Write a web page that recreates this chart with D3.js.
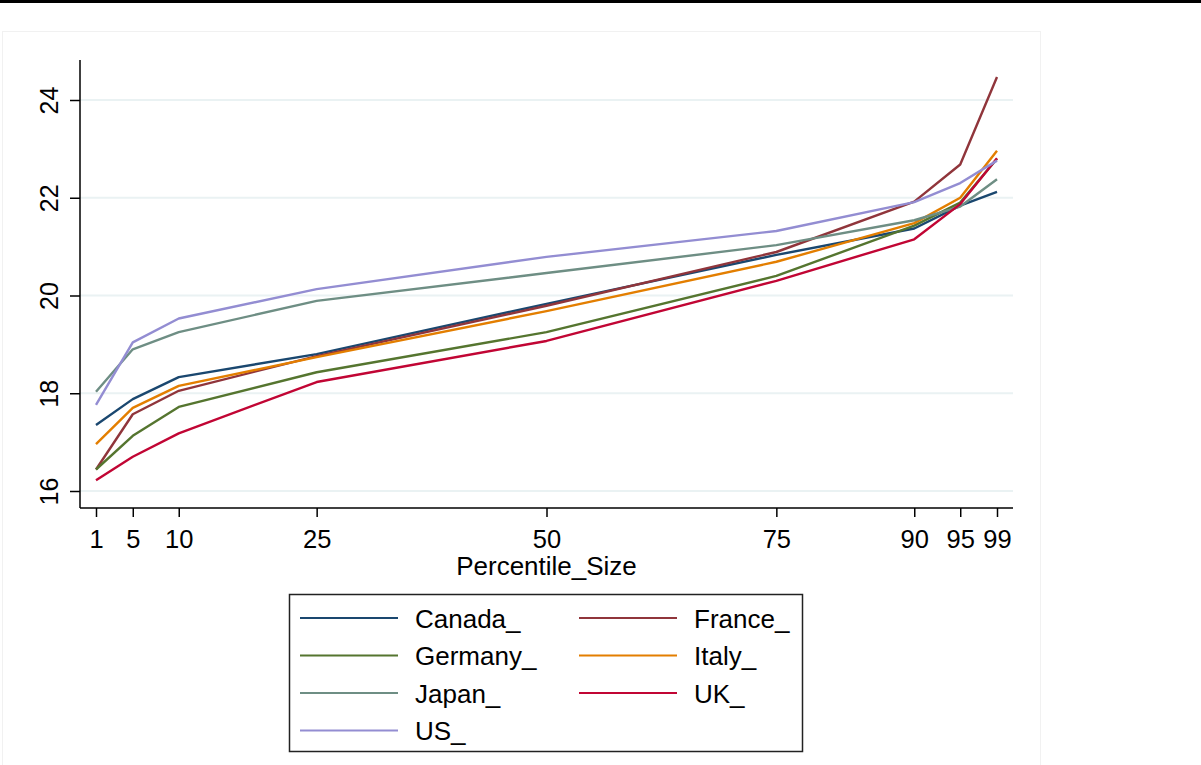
<!DOCTYPE html>
<html>
<head>
<meta charset="utf-8">
<script src="https://cdn.jsdelivr.net/npm/d3@7"></script>
<style>
  html, body { margin: 0; padding: 0; background: #ffffff; }
  svg { display: block; font-family: "Liberation Sans", Arial, sans-serif; }
</style>
</head>
<body>
<svg id="chart" width="1201" height="765"></svg>
<script>
// Percentile points on the horizontal axis
const percentiles = [1, 5, 10, 25, 50, 75, 90, 95, 99];
const yTicks = [16, 18, 20, 22, 24];

// Series values by country (log size at each percentile)
const canada  = [17.35, 17.88, 18.33, 18.80, 19.83, 20.83, 21.37, 21.84, 22.12];
const france  = [16.44, 17.57, 18.05, 18.76, 19.79, 20.89, 21.92, 22.68, 24.47];
const germany = [16.44, 17.13, 17.72, 18.43, 19.25, 20.40, 21.43, 21.90, 22.80];
const italy   = [16.96, 17.70, 18.15, 18.74, 19.68, 20.69, 21.48, 22.00, 22.96];
const japan   = [18.03, 18.90, 19.25, 19.89, 20.46, 21.03, 21.54, 21.82, 22.38];
const uk      = [16.22, 16.70, 17.18, 18.23, 19.07, 20.30, 21.15, 21.87, 22.81];
const us      = [17.76, 19.04, 19.53, 20.13, 20.79, 21.32, 21.91, 22.30, 22.76];

const seriesNames = ["Canada_", "France_", "Germany_", "Italy_", "Japan_", "UK_", "US_"];
const seriesValues = [canada, france, germany, italy, japan, uk, us];
const seriesColors = ["#1a476f", "#90353b", "#55752f", "#e37e00", "#6e8e84", "#c10534", "#938dd2"];

const svg = d3.select("#chart");

// top rule and faint outer frame
svg.append("rect").attr("x", 0).attr("y", 0).attr("width", 1201).attr("height", 3).attr("fill", "#000");
svg.append("rect").attr("x", 2.5).attr("y", 31.5).attr("width", 1038).attr("height", 760)
  .attr("fill", "none").attr("stroke", "#f1f1f1").attr("stroke-width", 1);

const plot = { left: 80, right: 1013, top: 60, bottom: 508 };

const x = d3.scaleLinear().domain([1, 99]).range([96, 997]);
const y = d3.scaleLinear().domain([16, 24]).range([491, 100]);

// horizontal grid
svg.append("g").selectAll("line").data(yTicks).join("line")
  .attr("x1", plot.left).attr("x2", plot.right)
  .attr("y1", d => y(d)).attr("y2", d => y(d))
  .attr("stroke", "#eaf2f3").attr("stroke-width", 2);

// y axis
const yAxis = svg.append("g").attr("transform", `translate(${plot.left},0)`)
  .call(d3.axisLeft(y).tickValues(yTicks).tickSize(10).tickPadding(10).tickFormat(d3.format("d")));
yAxis.select(".domain").attr("d", `M0,${plot.top}V${plot.bottom}`).attr("stroke", "#000").attr("stroke-width", 1.5);
yAxis.selectAll(".tick line").attr("stroke", "#000").attr("stroke-width", 1.5);
yAxis.selectAll(".tick text")
  .attr("font-size", 25).attr("fill", "#000")
  .attr("text-anchor", "middle")
  .attr("x", null).attr("dy", null)
  .attr("transform", "translate(-31,0) rotate(-90)")
  .attr("dominant-baseline", "central");

// x axis
const xAxis = svg.append("g").attr("transform", `translate(0,${plot.bottom})`)
  .call(d3.axisBottom(x).tickValues(percentiles).tickSize(9).tickPadding(6).tickFormat(d3.format("d")));
xAxis.select(".domain").attr("d", `M${plot.left},0H${plot.right}`).attr("stroke", "#000").attr("stroke-width", 1.5);
xAxis.selectAll(".tick line").attr("stroke", "#000").attr("stroke-width", 1.5);
xAxis.selectAll(".tick text").attr("font-size", 25.5).attr("fill", "#000").attr("dy", null).attr("y", 40);

svg.append("text").attr("x", x(50)).attr("y", 575)
  .attr("text-anchor", "middle").attr("font-size", 26).attr("fill", "#000")
  .text("Percentile_Size");

// series lines
const line = d3.line().x((d, i) => x(percentiles[i])).y(d => y(d));
svg.append("g").selectAll("path").data(seriesValues).join("path")
  .attr("d", d => line(d))
  .attr("fill", "none")
  .attr("stroke", (d, i) => seriesColors[i])
  .attr("stroke-width", 2.4)
  .attr("stroke-linejoin", "round");

// legend
const legend = svg.append("g");
legend.append("rect").attr("x", 289.5).attr("y", 594.5).attr("width", 513).attr("height", 157)
  .attr("fill", "#fff").attr("stroke", "#222").attr("stroke-width", 1.5);
const colX = [300, 579];
const rowY = [618, 655.5, 693, 730.5];
seriesNames.forEach((name, i) => {
  const cx = colX[i % 2];
  const cy = rowY[Math.floor(i / 2)];
  legend.append("line").attr("x1", cx).attr("x2", cx + 98).attr("y1", cy).attr("y2", cy)
    .attr("stroke", seriesColors[i]).attr("stroke-width", 2.2);
  legend.append("text").attr("x", cx + 115).attr("y", cy + 9.5)
    .attr("font-size", 26).attr("fill", "#000").text(name);
});
</script>
</body>
</html>
